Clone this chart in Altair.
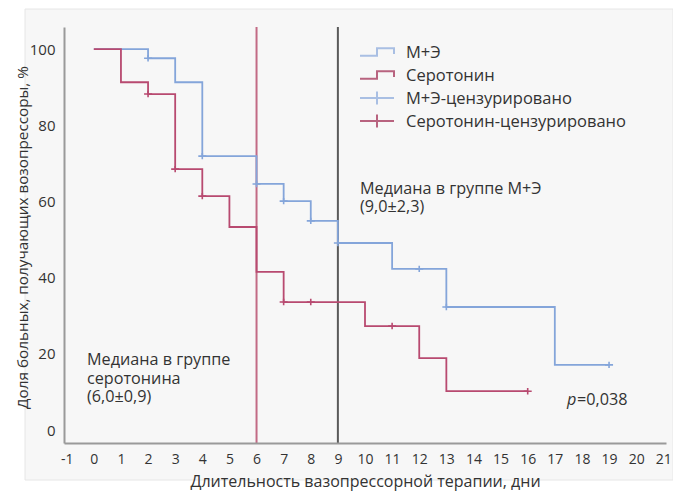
import altair as alt
import pandas as pd

# ---- data ----
me_t = [0, 2, 3, 4, 6, 7, 8, 9, 11, 13, 17, 19]
me_s = [100, 97.6, 91.3, 71.9, 64.6, 60.1, 54.9, 49.1, 42.3, 32.3, 17.1, 17.1]
ser_t = [0, 1, 2, 3, 4, 5, 6, 7, 10, 12, 13, 16]
ser_s = [100, 91.3, 88.2, 68.5, 61.4, 53.3, 41.5, 33.6, 27.3, 18.9, 10.2, 10.2]

me_cens_t = [2, 4, 6, 7, 8, 9, 12, 13, 19]
me_cens_s = [97.6, 71.9, 64.6, 60.1, 54.9, 49.1, 42.3, 32.3, 17.1]
ser_cens_t = [2, 3, 4, 7, 8, 11, 16]
ser_cens_s = [88.2, 68.5, 61.4, 33.6, 33.6, 27.3, 10.2]

median_ser = [6]
median_me = [9]
x_ticks = list(range(-1, 22))
y_ticks = [0, 20, 40, 60, 80, 100]

legend_labels = ["М+Э", "Серотонин", "М+Э-цензурировано", "Серотонин-цензурировано"]

BLUE = "#84a5da"
RED = "#b84a70"
FONT = "Open Sans"
TXT = "#333333"
W, H = 602, 416

dummy = pd.DataFrame({"a": [0]})

xscale = alt.Scale(domain=[-1.1, 21.1], nice=False, zero=False)
yscale = alt.Scale(domain=[-3.4, 105.8], nice=False, zero=False)

bg = alt.Chart(dummy).mark_rect(fill="#f7f7f7", stroke="#e6e6e6", strokeWidth=1).encode(
    x=alt.value(-39), x2=alt.value(609), y=alt.value(-18), y2=alt.value(453)
)

XTITLE = "Длительность вазопрессорной терапии, дни"
YTITLE = "Доля больных, получающих возопрессоры, %"
xaxis = alt.Axis(values=x_ticks, labelExpr="'' + datum.value", ticks=False, grid=False,
                 labelOverlap=False, domainColor="#9a9a9a", domainWidth=2,
                 labelFont=FONT, labelFontSize=14, labelColor=TXT, labelPadding=9,
                 titleFont=FONT, titleFontSize=16, titleFontWeight="normal",
                 titleColor=TXT, titleY=38, titleBaseline="middle", zindex=1)
yaxis = alt.Axis(values=y_ticks, ticks=False, grid=False,
                 domainColor="#9a9a9a", domainWidth=2,
                 labelFont=FONT, labelFontSize=15, labelColor=TXT, labelPadding=9,
                 titleFont=FONT, titleFontSize=15.3, titleFontWeight="normal",
                 titleColor=TXT, titleX=-34, titleY=H / 2 + 2, titleAngle=270,
                 titleBaseline="bottom", titleAlign="center", zindex=1)


def X(field):
    return alt.X(field, scale=xscale, axis=xaxis, title=XTITLE)


def Y(field):
    return alt.Y(field, scale=yscale, axis=yaxis, title=YTITLE)


def step_layer(t, s, col):
    df = pd.DataFrame({"t": t, "s": s})
    return alt.Chart(df).mark_line(interpolate="step-after", strokeWidth=1.8, color=col).encode(
        x=X("t:Q"), y=Y("s:Q"))


def cens_layer(t, s, col):
    df = pd.DataFrame({"t": t, "s": s})
    return alt.Chart(df).mark_point(shape="M-1,0H1M0,-0.8V0.8", filled=False, size=64,
                                    strokeWidth=1.6, opacity=1, color=col).encode(
        x=X("t:Q"), y=Y("s:Q"))


def rule_layer(m, col):
    df = pd.DataFrame({"t": m})
    return alt.Chart(df).mark_rule(strokeWidth=2, color=col).encode(
        x=X("t:Q"), y=alt.value(0), y2=alt.value(H))


def txt(s, x, y, italic=False, size=16.2):
    return alt.Chart(dummy).mark_text(text=s, font=FONT, fontSize=size, color=TXT,
                                      align="left", baseline="middle",
                                      fontStyle="italic" if italic else "normal").encode(
        x=alt.value(x), y=alt.value(y))


annots = [
    txt("Медиана в группе М+Э", 296, 162),
    txt("(9,0±2,3)", 296, 180),
    txt("Медиана в группе", 23, 333),
    txt("серотонина", 23, 351.5),
    txt("(6,0±0,9)", 23, 370),
    txt("p", 503, 373, italic=True),
    txt("=0,038", 513, 373),
]

STEP = "M-1,0.22H0V-0.22H1V0.12"
CROSS = "M-1,0H1M0,-0.38V0.38"
leg_shapes = [STEP, STEP, CROSS, CROSS]
leg_colors = ["#a9bfe3", "#b8637f", "#a9bfe3", "#b8637f"]
legend_layers = []
for i, lab in enumerate(legend_labels):
    yy = 26 + 23 * i
    legend_layers.append(
        alt.Chart(dummy).mark_point(shape=leg_shapes[i], filled=False, size=1156,
                                    strokeWidth=2, opacity=1, color=leg_colors[i]).encode(
            x=alt.value(313), y=alt.value(yy - 1))
    )
    legend_layers.append(txt(lab, 342, yy, size=16.5))

chart = alt.layer(
    bg,
    rule_layer(median_ser, "#c26a85"),
    rule_layer(median_me, "#5a5a5a"),
    step_layer(me_t, me_s, BLUE),
    step_layer(ser_t, ser_s, RED),
    cens_layer(me_cens_t, me_cens_s, BLUE),
    cens_layer(ser_cens_t, ser_cens_s, RED),
    *annots, *legend_layers,
).properties(
    width=W, height=H,
    autosize=alt.AutoSizeParams(type="none"),
    padding={"left": 56, "top": 19, "right": 7, "bottom": 49},
    background="white",
).configure_view(stroke=None)

chart.save("out.html", embed_options={"renderer": "svg", "actions": False})
